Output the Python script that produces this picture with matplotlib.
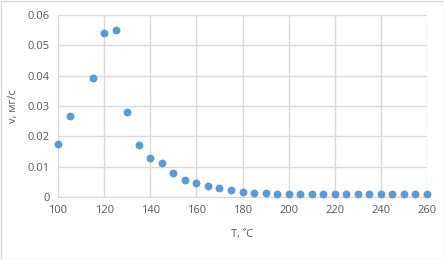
import numpy as np
import matplotlib.pyplot as plt
from matplotlib.patches import Rectangle

# temperature, C and rate, mg/s
T = [100, 105, 115, 120, 125, 130, 135, 140, 145, 150, 155, 160, 165, 170, 175,
     180, 185, 190, 195, 200, 205, 210, 215, 220, 225, 230, 235, 240, 245, 250,
     255, 260]
v = [0.0174, 0.0268, 0.0393, 0.0540, 0.0551, 0.0279, 0.0170, 0.0127, 0.0111,
     0.0079, 0.0056, 0.0046, 0.0035, 0.0029, 0.0024, 0.0016, 0.0013, 0.0012,
     0.0011, 0.0010, 0.0010, 0.0009, 0.0009, 0.0009, 0.0009, 0.0009, 0.0010,
     0.0010, 0.0011, 0.0011, 0.0011, 0.0011]

xticks = [100, 120, 140, 160, 180, 200, 220, 240, 260]
yticks = [0, 0.01, 0.02, 0.03, 0.04, 0.05, 0.06]
ylabels = ['0', '0.01', '0.02', '0.03', '0.04', '0.05', '0.06']

plt.rcParams['font.family'] = ['Open Sans', 'DejaVu Sans']
txt = '#595959'
grid = '#D9D9D9'

fig = plt.figure(figsize=(4.44, 2.60), dpi=100)
ax = fig.add_axes([58 / 444, 1 - 197 / 260, 369 / 444, 182 / 260])

ax.scatter(T, v, s=32, color='#5B9BD5', zorder=3, linewidths=0, clip_on=False)

ax.set_xlim(100, 260)
ax.set_ylim(0, 0.06)
ax.set_xticks(xticks)
ax.set_yticks(yticks)
ax.set_yticklabels(ylabels)
ax.grid(True, color=grid, linewidth=1)
ax.set_axisbelow(True)
for s in ['top', 'right', 'left']:
    ax.spines[s].set_visible(False)
ax.spines['bottom'].set_color(grid)
ax.tick_params(length=0, colors=txt, labelsize=8, pad=6)

ax.set_xlabel('T, ˚C', color=txt, fontsize=8, labelpad=9)
ax.set_ylabel('v, мг/с', color=txt, fontsize=8, labelpad=6)

# chart border
fig.patches.append(Rectangle((0.5 / 444, 0.5 / 260), 443 / 444, 259 / 260,
                             transform=fig.transFigure, fill=False,
                             edgecolor=grid, linewidth=1))

fig.savefig('out.png', dpi=100)
